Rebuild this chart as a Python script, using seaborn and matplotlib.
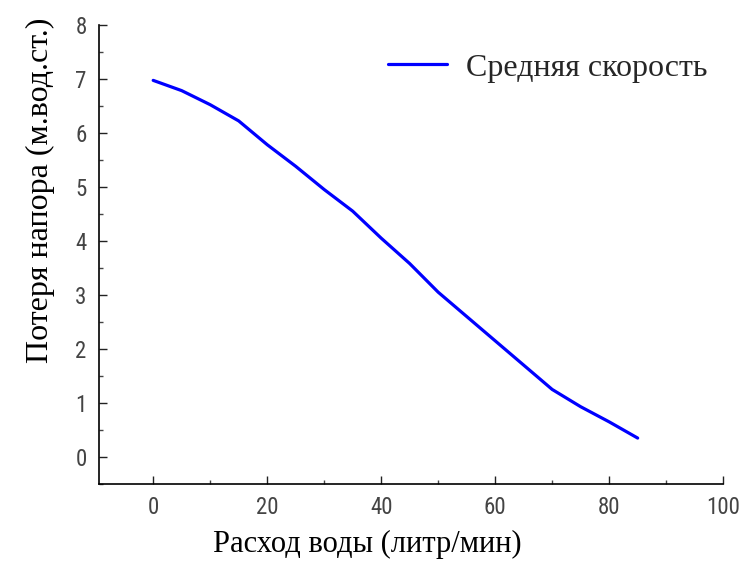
import matplotlib
matplotlib.use("Agg")
from matplotlib import pyplot as plt
from matplotlib.ticker import MultipleLocator
import pandas as pd
import numpy as np
import seaborn as sns

# flow rate (litre/min) and head loss (m water column)
flow = [0, 5, 10, 15, 20, 25, 30, 35, 40, 45, 50, 55, 60, 65, 70, 75, 80, 85]
head_loss = [6.97, 6.78, 6.52, 6.22, 5.78, 5.38, 4.95, 4.55, 4.05, 3.58, 3.05, 2.6,
             2.15, 1.7, 1.25, 0.93, 0.65, 0.35]
series_name = "Средняя скорость"
x_label = "Расход воды (литр/мин)"
y_label = "Потеря напора (м.вод.ст.)"

df = pd.DataFrame({"x": flow, "y": head_loss, "s": series_name})

sns.set_theme(style="white")
plt.rcParams['font.family'] = ['Liberation Serif', 'DejaVu Serif']

fig = plt.figure(figsize=(7.43, 5.67), dpi=100)
ax = fig.add_axes([0.1333, 0.1464, 0.84, 0.81])

sns.lineplot(data=df, x="x", y="y", hue="s", palette=["#0000ff"], linewidth=2.3, ax=ax)

ax.set_xlim(-9.5, 100)
ax.set_ylim(-0.5, 8)
ax.xaxis.set_major_locator(MultipleLocator(20))
ax.xaxis.set_minor_locator(MultipleLocator(10))
ax.yaxis.set_major_locator(MultipleLocator(1))
ax.yaxis.set_minor_locator(MultipleLocator(0.5))
ax.tick_params(which="major", direction="in", length=6, width=1, color="#222222",
               labelsize=16.5, labelcolor="#444444", left=True, bottom=True, pad=9)
ax.tick_params(which="minor", direction="in", length=3, width=1, color="#444444",
               left=True, bottom=True)
for lab in ax.get_xticklabels() + ax.get_yticklabels():
    lab.set_family(['Roboto Condensed', 'DejaVu Sans'])

for side in ["top", "right"]:
    ax.spines[side].set_visible(False)
for side in ["left", "bottom"]:
    ax.spines[side].set_color("black")
    ax.spines[side].set_linewidth(1.2)

ax.set_xlabel(x_label, fontsize=22, color="black")
ax.set_ylabel(y_label, fontsize=23, color="black")
ax.xaxis.set_label_coords(0.43, -0.10)
ax.yaxis.set_label_coords(-0.0705, 0.64)

leg = ax.legend(loc="center left", frameon=False, fontsize=23, handlelength=1.85,
                handletextpad=0.6, borderpad=0, borderaxespad=0,
                bbox_to_anchor=(0.463, 0.906))
leg.set_title(None)

fig.savefig("out.png", dpi=100)
